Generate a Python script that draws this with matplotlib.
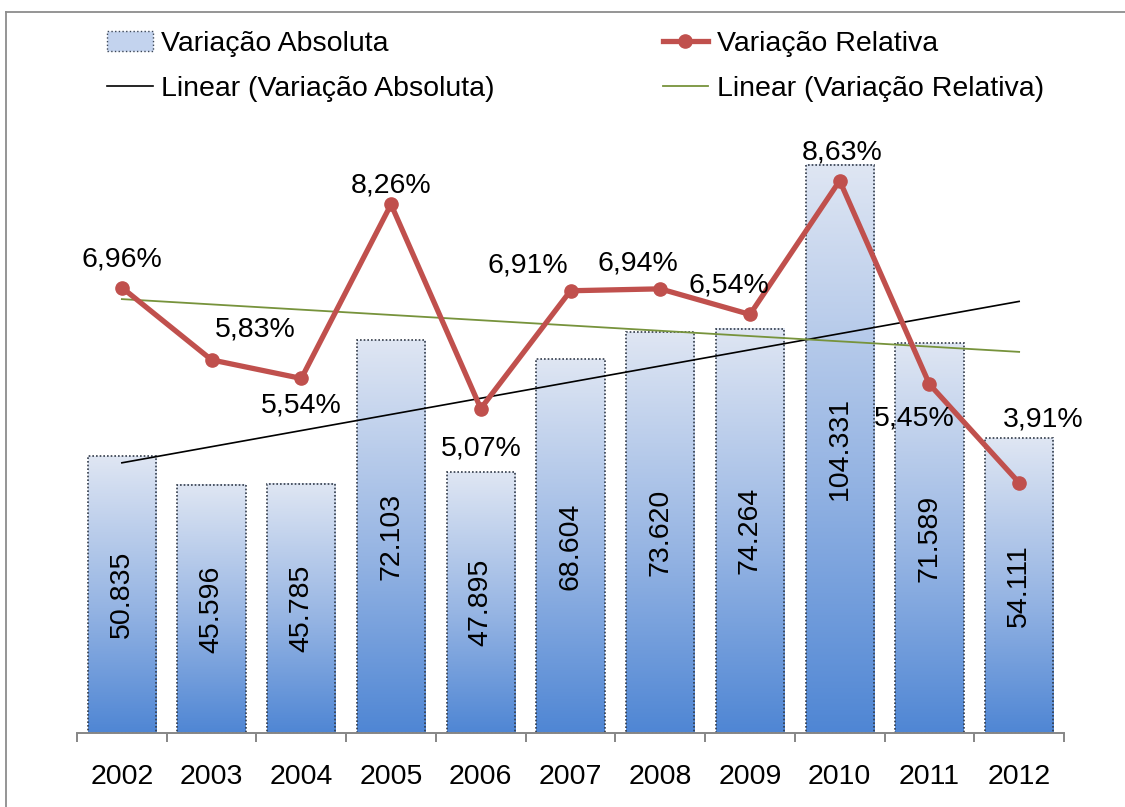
import numpy as np
import matplotlib
matplotlib.use('Agg')
import matplotlib.pyplot as plt
from matplotlib.patches import Rectangle, Patch
from matplotlib.lines import Line2D
from matplotlib.colors import LinearSegmentedColormap

plt.rcParams['font.family'] = ['Liberation Sans', 'DejaVu Sans']

# ---- data ----
years = ['2002', '2003', '2004', '2005', '2006', '2007', '2008', '2009', '2010', '2011', '2012']
abs_values = [50835, 45596, 45785, 72103, 47895, 68604, 73620, 74264, 104331, 71589, 54111]
abs_labels = ['50.835', '45.596', '45.785', '72.103', '47.895', '68.604', '73.620',
              '74.264', '104.331', '71.589', '54.111']
rel_values = [6.96, 5.83, 5.54, 8.26, 5.07, 6.91, 6.94, 6.54, 8.63, 5.45, 3.91]
rel_labels = ['6,96%', '5,83%', '5,54%', '8,26%', '5,07%', '6,91%', '6,94%',
              '6,54%', '8,63%', '5,45%', '3,91%']
legend_labels = ['Variação Absoluta', 'Linear (Variação Absoluta)',
                 'Variação Relativa', 'Linear (Variação Relativa)']

# label offsets (pixels) for the percentage labels
rel_label_offsets = [(0, 28), (44, 30), (0, -27), (0, 19), (0, -40), (-43, 25),
                     (-22, 25), (-21, 29), (2, 28), (-15, -34), (24, 63)]

W, H = 1125, 807
fig = plt.figure(figsize=(W / 100, H / 100), dpi=100)

left, right, base, top = 77, 1064, 733, 94
ax = fig.add_axes([left / W, (H - base) / H, (right - left) / W, (base - top) / H])
ax2 = ax.twinx()

FS = 20.5
x = np.arange(len(years))
bar_w = 0.76

cmap = LinearSegmentedColormap.from_list(
    'grad', [(0.0, '#4f86d4'), (0.45, '#95b4e3'), (1.0, '#dfe6f3')])
grad = np.linspace(0, 1, 256).reshape(-1, 1)

for xi, v, lab in zip(x, abs_values, abs_labels):
    ax.imshow(grad, extent=[xi - bar_w / 2, xi + bar_w / 2, 0, v], origin='lower',
              aspect='auto', cmap=cmap, zorder=1, interpolation='bilinear')
    ax.add_patch(Rectangle((xi - bar_w / 2, 0), bar_w, v, fill=False,
                           edgecolor='#333c4a', linewidth=1.2,
                           linestyle=(0, (1, 1.2)), zorder=2))
    ax.text(xi, v / 2, lab, rotation=90, ha='center', va='center',
            fontsize=FS, color='black', zorder=3)

# trend lines
pa = np.polyfit(x, abs_values, 1)
ax.plot(x, np.polyval(pa, x), color='black', linewidth=1.2, zorder=4)

ax.set_xlim(-0.5, len(years) - 0.5)
ax.set_ylim(0, (base - top) / 0.005446)

pr = np.polyfit(x, rel_values, 1)
ax2.plot(x, np.polyval(pr, x), color='#77933c', linewidth=1.3, zorder=2)
ax2.plot(x, rel_values, color='#c0504d', linewidth=3.8, marker='o',
         markersize=9.5, zorder=3, solid_joinstyle='round')
for xi, v, lab, off in zip(x, rel_values, rel_labels, rel_label_offsets):
    ax2.annotate(lab, (xi, v), xytext=off, textcoords='offset pixels',
                 ha='center', va='center', fontsize=FS, color='black', zorder=5)
ax2.set_ylim(0, (base - top) / 64.0)

for a in (ax, ax2):
    for s in ('top', 'right', 'left'):
        a.spines[s].set_visible(False)
    a.set_yticks([])
ax2.spines['bottom'].set_visible(False)
ax.spines['bottom'].set_color('#868686')
ax.spines['bottom'].set_linewidth(1.4)

ax.set_xticks(x)
ax.set_xticklabels(years, fontsize=FS)
ax.tick_params(axis='x', which='major', length=0, pad=22)
ax.set_xticks(np.arange(-0.5, len(years)), minor=True)
ax.tick_params(axis='x', which='minor', length=6.5, width=1.4, color='#868686',
               direction='out')

# legend
handles = [
    Patch(facecolor='#c3d3ee', edgecolor='#3c4656', linestyle=':', linewidth=1),
    Line2D([], [], color='black', linewidth=1.2),
    Line2D([], [], color='#c0504d', linewidth=3.8, marker='o', markersize=9.5),
    Line2D([], [], color='#77933c', linewidth=1.3),
]
fig.legend(handles, legend_labels, ncol=2, loc='upper left',
           bbox_to_anchor=(107 / W, 1 - 31 / H), frameon=False, fontsize=FS,
           handlelength=1.6, handletextpad=0.3, columnspacing=5.9,
           labelspacing=0.67, borderpad=0, borderaxespad=0)

# outer frame
fig.add_artist(Line2D([6 / W, 1.0], [1 - 12 / H, 1 - 12 / H], color='#8c8c8c',
                      linewidth=1.3, transform=fig.transFigure))
fig.add_artist(Line2D([6 / W, 6 / W], [0, 1 - 12 / H], color='#8c8c8c',
                      linewidth=1.3, transform=fig.transFigure))

fig.savefig('out.png', dpi=100)
